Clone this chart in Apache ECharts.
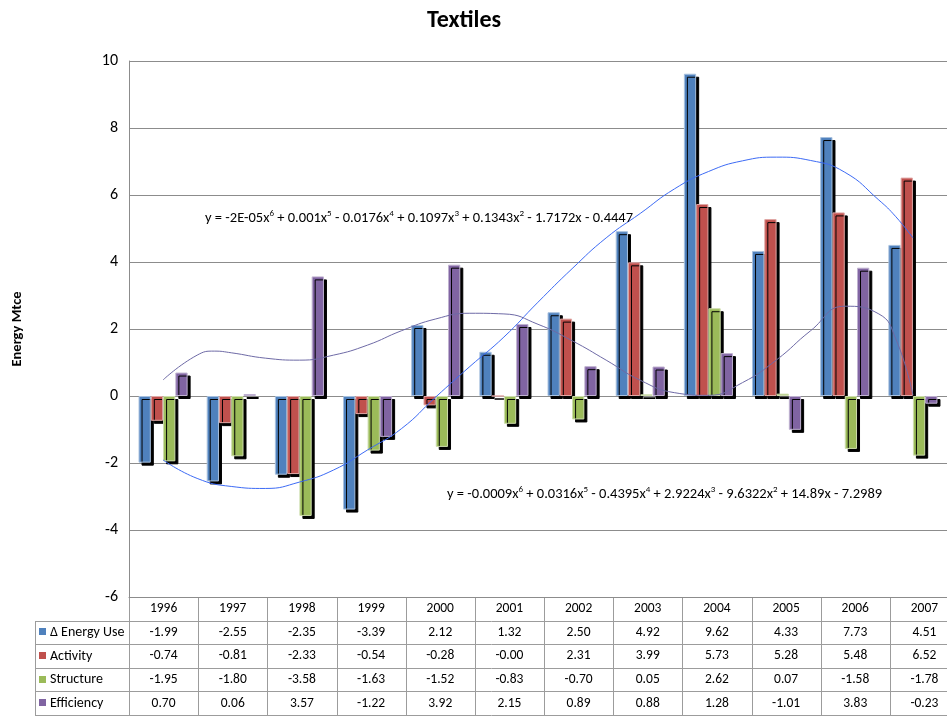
<!DOCTYPE html>
<html>
<head>
<meta charset="utf-8">
<title>Textiles</title>
<script src="https://cdn.jsdelivr.net/npm/echarts@6/dist/echarts.min.js"></script>
<style>
  html, body { margin: 0; padding: 0; background: #ffffff; }
  #chart { width: 947px; height: 717px; }
</style>
</head>
<body>
<div id="chart"></div>
<script>
// ---- data ----
const years = ['1996', '1997', '1998', '1999', '2000', '2001', '2002', '2003', '2004', '2005', '2006', '2007'];
const energyUse  = [-1.99, -2.55, -2.35, -3.39, 2.12, 1.32, 2.50, 4.92, 9.62, 4.33, 7.73, 4.51];
const activity   = [-0.74, -0.81, -2.33, -0.54, -0.28, -0.001, 2.31, 3.99, 5.73, 5.28, 5.48, 6.52];
const structure  = [-1.95, -1.80, -3.58, -1.63, -1.52, -0.83, -0.70, 0.05, 2.62, 0.07, -1.58, -1.78];
const efficiency = [0.70, 0.06, 3.57, -1.22, 3.92, 2.15, 0.89, 0.88, 1.28, -1.01, 3.83, -0.23];

const seriesNames = ['\u0394 Energy Use', 'Activity', 'Structure', 'Efficiency'];
const yMin = -6, yMax = 10, yStep = 2;

// polynomial trend curves (x = category number, 1 = 1996)
const energyTrendX = [1, 1.5, 2, 2.5, 3, 3.5, 4, 4.5, 5, 5.5, 6, 6.5, 7, 7.5, 8, 8.5, 9, 9.5, 10, 10.5, 11, 11.5, 11.75, 12];
const energyTrendY = [-1.91, -2.46, -2.70, -2.76, -2.57, -2.21, -1.61, -0.97, -0.03, 0.88, 1.76, 2.80, 3.80, 4.72, 5.45, 6.18, 6.70, 7.02, 7.13, 7.03, 6.68, 5.85, 5.35, 4.72];
const efficiencyTrendX = [1, 1.5, 1.75, 2, 2.5, 3, 3.5, 4, 4.5, 5, 5.5, 6, 6.5, 7, 7.5, 8, 8.5, 9, 9.5, 10, 10.5, 11, 11.5, 11.75, 12];
const efficiencyTrendY = [0.48, 1.22, 1.34, 1.29, 1.13, 1.07, 1.22, 1.52, 1.95, 2.30, 2.47, 2.45, 2.14, 1.65, 1.07, 0.47, 0.10, 0.02, 0.40, 1.08, 1.95, 2.68, 2.45, 1.70, 0.03];

const energyEquation     = 'y = -2E-05x^6 + 0.001x^5 - 0.0176x^4 + 0.1097x^3 + 0.1343x^2 - 1.7172x - 0.4447';
const efficiencyEquation = 'y = -0.0009x^6 + 0.0316x^5 - 0.4395x^4 + 2.9224x^3 - 9.6322x^2 + 14.89x - 7.2989';

// ---- styling ----
const colors  = ['#4F81BD', '#C0504D', '#9BBB59', '#8064A2'];
const borders = ['#A7C0DE', '#E0A8A6', '#CDDDAC', '#BFB1D0'];
const FONT = 'Carlito, Lato, "Liberation Sans", sans-serif';

// plot rectangle
const G = { left: 129, top: 61, width: 830, height: 536 };
const rowH = 23.6;
const legendLeft = 35;

const chart = echarts.init(document.getElementById('chart'), null, { renderer: 'canvas' });

function richEquation(eq) {
  return eq.replace(/\^(\d)/g, '{sup|$1}');
}

// data table drawn under the plot
function buildTable() {
  const els = [];
  const colW = G.width / years.length;
  const top = G.top + G.height;
  const nRows = 1 + seriesNames.length;
  const bottom = top + nRows * rowH;
  const lineStyle = { stroke: '#9c9c9c', lineWidth: 1 };
  // horizontal rules
  for (let k = 1; k <= nRows; k++) {
    const y = Math.round(top + k * rowH) + 0.5;
    els.push({ type: 'line', silent: true, shape: { x1: legendLeft, y1: y, x2: G.left + G.width, y2: y }, style: lineStyle });
  }
  // vertical rules
  for (let i = 0; i <= years.length; i++) {
    const x = Math.round(G.left + i * colW) + 0.5;
    els.push({ type: 'line', silent: true, shape: { x1: x, y1: top, x2: x, y2: bottom }, style: lineStyle });
  }
  els.push({ type: 'line', silent: true, shape: { x1: legendLeft + 0.5, y1: Math.round(top + rowH), x2: legendLeft + 0.5, y2: bottom }, style: lineStyle });
  // header years
  years.forEach((yr, i) => {
    els.push({ type: 'text', silent: true, x: G.left + (i + 0.5) * colW, y: top + rowH / 2,
      style: { text: yr, font: '13.5px ' + FONT, fill: '#000', align: 'center', verticalAlign: 'middle' } });
  });
  // value rows with legend keys
  const rowsData = [energyUse, activity, structure, efficiency];
  rowsData.forEach((vals, r) => {
    const cy = top + (r + 1.5) * rowH;
    els.push({ type: 'rect', silent: true, shape: { x: legendLeft + 4, y: Math.round(cy - 4), width: 7, height: 7 },
      style: { fill: colors[r] } });
    els.push({ type: 'text', silent: true, x: legendLeft + 15, y: cy,
      style: { text: seriesNames[r], font: '14px ' + FONT, fill: '#000', align: 'left', verticalAlign: 'middle' } });
    vals.forEach((v, i) => {
      els.push({ type: 'text', silent: true, x: G.left + (i + 0.5) * colW, y: cy,
        style: { text: v.toFixed(2), font: '13.5px ' + FONT, fill: '#000', align: 'center', verticalAlign: 'middle' } });
    });
  });
  return els;
}

function equationText(eq, x, y) {
  return {
    type: 'text', silent: true, x: x, y: y, z: 10,
    style: {
      text: richEquation(eq),
      font: '14.5px ' + FONT,
      fill: '#000',
      align: 'left',
      verticalAlign: 'middle',
      rich: {
        sup: { fontSize: 9, fontFamily: FONT, verticalAlign: 'top', lineHeight: 17, fill: '#000' }
      }
    }
  };
}

function barSeries(name, data, idx) {
  return {
    name: name,
    type: 'bar',
    data: data,
    barGap: '0%',
    barCategoryGap: '28%',
    itemStyle: {
      color: colors[idx],
      borderColor: borders[idx],
      borderWidth: 1,
      shadowColor: '#000000',
      shadowBlur: 0,
      shadowOffsetX: 3,
      shadowOffsetY: 3
    },
    emphasis: { disabled: true },
    z: 2
  };
}

function trendSeries(xs, ys, color) {
  return {
    type: 'line',
    xAxisIndex: 1,
    data: xs.map((x, i) => [x, ys[i]]),
    smooth: 0.5,
    showSymbol: false,
    lineStyle: { color: color, width: 1 },
    emphasis: { disabled: true },
    z: 5
  };
}

const option = {
  animation: false,
  backgroundColor: '#ffffff',
  title: {
    text: 'Textiles',
    left: 459,
    top: 4,
    textAlign: 'center',
    textStyle: { fontFamily: FONT, fontSize: 24, fontWeight: 'bold', color: '#000' }
  },
  grid: { left: G.left, top: G.top, width: G.width, height: G.height, containLabel: false },
  xAxis: [
    {
      type: 'category',
      data: years,
      position: 'bottom',
      axisLine: { show: true, onZero: false, lineStyle: { color: '#8c8c8c', width: 1 } },
      axisTick: { show: false },
      axisLabel: { show: false },
      splitLine: { show: false }
    },
    {
      type: 'value',
      min: 0.5,
      max: years.length + 0.5,
      show: false
    }
  ],
  yAxis: {
    type: 'value',
    min: yMin,
    max: yMax,
    interval: yStep,
    name: 'Energy Mtce',
    nameLocation: 'middle',
    nameRotate: 90,
    nameGap: 104,
    nameTextStyle: { fontFamily: FONT, fontSize: 14.5, fontWeight: 'bold', color: '#000' },
    axisLine: { show: true, lineStyle: { color: '#8c8c8c', width: 1 } },
    axisTick: { show: false },
    axisLabel: { margin: 11, fontFamily: FONT, fontSize: 16, color: '#000' },
    splitLine: { show: true, lineStyle: { color: '#8c8c8c', width: 1 } }
  },
  series: [
    barSeries(seriesNames[0], energyUse, 0),
    barSeries(seriesNames[1], activity, 1),
    barSeries(seriesNames[2], structure, 2),
    barSeries(seriesNames[3], efficiency, 3),
    trendSeries(energyTrendX, energyTrendY, '#3D6BF5'),
    trendSeries(efficiencyTrendX, efficiencyTrendY, '#6E6AA6')
  ],
  graphic: buildTable().concat([
    equationText(energyEquation, 205, 218),
    equationText(efficiencyEquation, 447, 494)
  ])
};

chart.setOption(option);
</script>
</body>
</html>
